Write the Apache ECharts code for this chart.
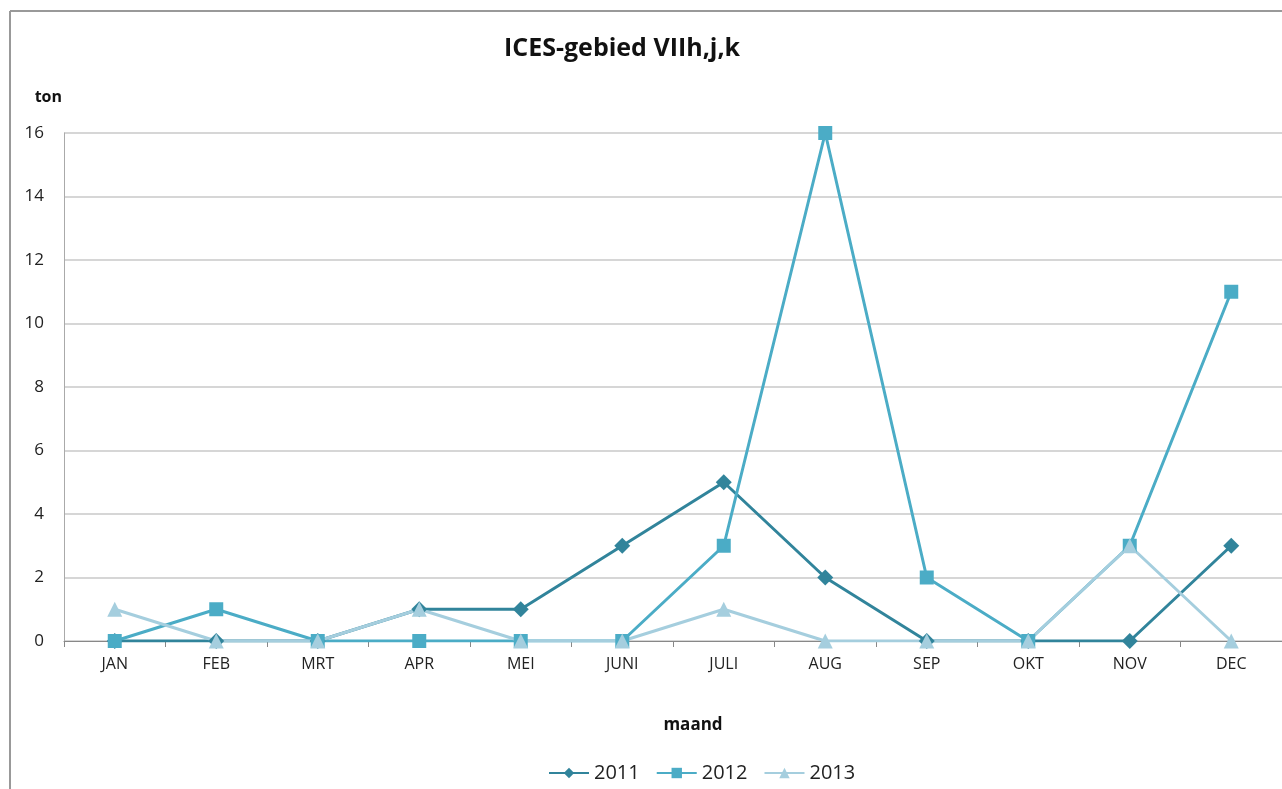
<!DOCTYPE html>
<html>
<head>
<meta charset="utf-8">
<script src="https://cdn.jsdelivr.net/npm/echarts@6/dist/echarts.min.js"></script>
<style>
  html, body { margin: 0; padding: 0; background: #fff; }
  #chart { width: 1282px; height: 789px; }
</style>
</head>
<body>
<div id="chart"></div>
<script>
const months = ['JAN', 'FEB', 'MRT', 'APR', 'MEI', 'JUNI', 'JULI', 'AUG', 'SEP', 'OKT', 'NOV', 'DEC'];
const ton2011 = [0, 0, 0, 1, 1, 3, 5, 2, 0, 0, 0, 3];
const ton2012 = [0, 1, 0, 0, 0, 0, 3, 16, 2, 0, 3, 11];
const ton2013 = [1, 0, 0, 1, 0, 0, 1, 0, 0, 0, 3, 0];

const font = '"Open Sans", "Liberation Sans", sans-serif';

function makeSeries(name, data, color, symbol, size) {
  return {
    name: name,
    type: 'line',
    data: data,
    symbol: symbol,
    symbolSize: size,
    lineStyle: { color: color, width: 3 },
    itemStyle: { color: color },
    z: 3
  };
}

const myChart = echarts.init(document.getElementById('chart'));
const option = {
  animation: false,
  backgroundColor: '#fff',
  title: {
    text: 'ICES-gebied VIIh,j,k',
    left: 617,
    top: 31,
    textAlign: 'center',
    textStyle: { fontFamily: font, fontWeight: 'bold', fontSize: 25, color: '#111' }
  },
  legend: {
    bottom: 6,
    left: 548,
    padding: 0,
    itemWidth: 40,
    itemHeight: 13,
    itemGap: 16,
    textStyle: { fontFamily: font, fontSize: 20, color: '#222' },
    data: ['2011', '2012', '2013']
  },
  grid: { left: 64, right: 0, top: 133, bottom: 148 },
  xAxis: {
    type: 'category',
    data: months,
    boundaryGap: true,
    axisLine: { lineStyle: { color: '#888', width: 1 } },
    axisTick: { show: true, length: 6, lineStyle: { color: '#888' } },
    axisLabel: { fontFamily: font, fontSize: 16, color: '#222', margin: 15 },
    name: 'maand',
    nameLocation: 'middle',
    nameGap: 76,
    nameTextStyle: { fontFamily: font, fontWeight: 'bold', fontSize: 17, color: '#111', padding: [0, 0, 0, 40] }
  },
  yAxis: {
    type: 'value',
    min: 0,
    max: 16,
    interval: 2,
    name: 'ton',
    nameLocation: 'end',
    nameGap: 28,
    nameTextStyle: { fontFamily: font, fontWeight: 'bold', fontSize: 16, color: '#111', align: 'right', padding: [0, 2, 0, 0] },
    axisLine: { show: true, lineStyle: { color: '#aaa' } },
    axisTick: { show: false },
    axisLabel: { fontFamily: font, fontSize: 17, color: '#222', margin: 20 },
    splitLine: { lineStyle: { color: '#c8c8c8', width: 1.5 } }
  },
  graphic: [
    { type: 'line', shape: { x1: 10, y1: 11, x2: 10, y2: 789 }, style: { stroke: '#999', lineWidth: 2 } },
    { type: 'line', shape: { x1: 10, y1: 11, x2: 1282, y2: 11 }, style: { stroke: '#999', lineWidth: 2 } }
  ],
  series: [
    makeSeries('2011', ton2011, '#31849b', 'diamond', 16),
    makeSeries('2012', ton2012, '#4bacc6', 'rect', 14),
    makeSeries('2013', ton2013, '#a5cede', 'triangle', 15)
  ]
};
myChart.setOption(option);
</script>
</body>
</html>
